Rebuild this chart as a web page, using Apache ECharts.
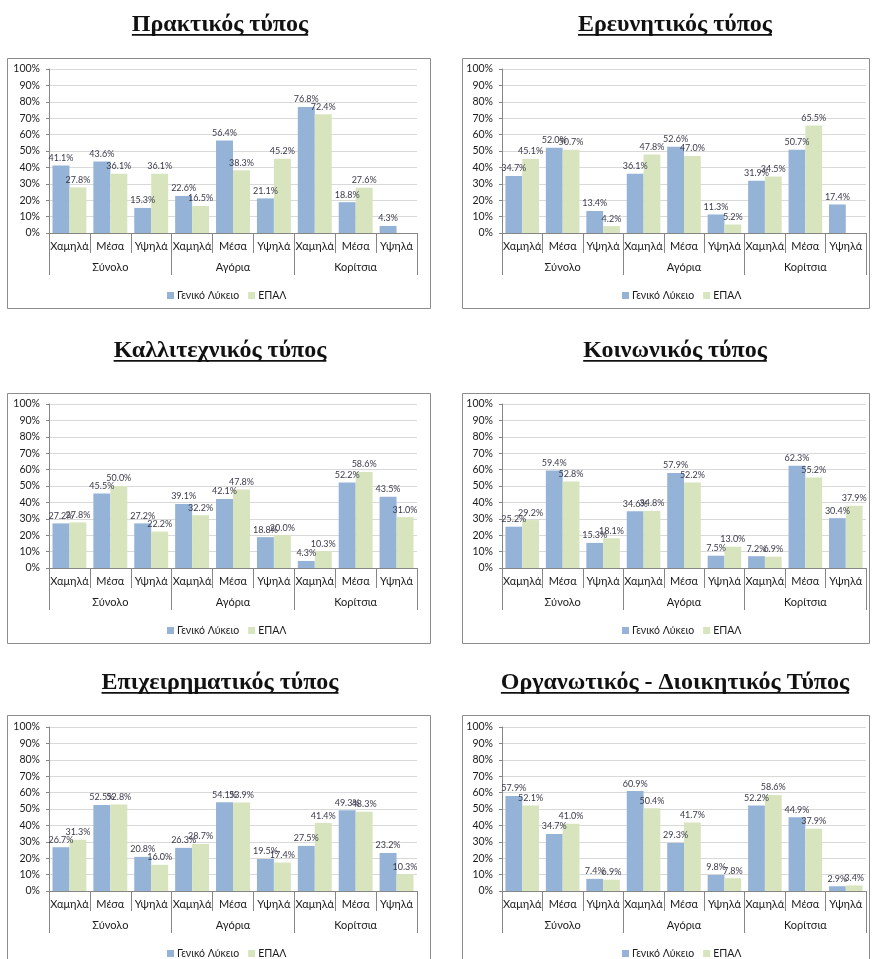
<!DOCTYPE html>
<html><head><meta charset="utf-8">
<script src="https://cdn.jsdelivr.net/npm/echarts@6/dist/echarts.min.js"></script>
<style>html,body{margin:0;padding:0;background:#fff}#c{width:874px;height:959px}</style>
</head><body><div id="c"></div>
<script>
// ---------- DATA ----------
const levels = ['Χαμηλά','Μέσα','Υψηλά','Χαμηλά','Μέσα','Υψηλά','Χαμηλά','Μέσα','Υψηλά'];
const groups = ['Σύνολο','Αγόρια','Κορίτσια'];
const seriesNames = ['Γενικό Λύκειο','ΕΠΑΛ'];
const yMin = 0, yMax = 100, yStep = 10;

const titles = ['Πρακτικός τύπος','Ερευνητικός τύπος','Καλλιτεχνικός τύπος','Κοινωνικός τύπος','Επιχειρηματικός τύπος','Οργανωτικός - Διοικητικός Τύπος'];

const praktikosGL   = [41.1, 43.6, 15.3, 22.6, 56.4, 21.1, 76.8, 18.8, 4.3];
const praktikosEPAL = [27.8, 36.1, 36.1, 16.5, 38.3, 45.2, 72.4, 27.6, null];

const erevnitikosGL   = [34.7, 52.0, 13.4, 36.1, 52.6, 11.3, 31.9, 50.7, 17.4];
const erevnitikosEPAL = [45.1, 50.7, 4.2, 47.8, 47.0, 5.2, 34.5, 65.5, null];

const kallitexnikosGL   = [27.2, 45.5, 27.2, 39.1, 42.1, 18.8, 4.3, 52.2, 43.5];
const kallitexnikosEPAL = [27.8, 50.0, 22.2, 32.2, 47.8, 20.0, 10.3, 58.6, 31.0];

const koinonikosGL   = [25.2, 59.4, 15.3, 34.6, 57.9, 7.5, 7.2, 62.3, 30.4];
const koinonikosEPAL = [29.2, 52.8, 18.1, 34.8, 52.2, 13.0, 6.9, 55.2, 37.9];

const epixeirimatikosGL   = [26.7, 52.5, 20.8, 26.3, 54.1, 19.5, 27.5, 49.3, 23.2];
const epixeirimatikosEPAL = [31.3, 52.8, 16.0, 28.7, 53.9, 17.4, 41.4, 48.3, 10.3];

const organotikosGL   = [57.9, 34.7, 7.4, 60.9, 29.3, 9.8, 52.2, 44.9, 2.9];
const organotikosEPAL = [52.1, 41.0, 6.9, 50.4, 41.7, 7.8, 58.6, 37.9, 3.4];

const panelData = [
  [praktikosGL, praktikosEPAL],
  [erevnitikosGL, erevnitikosEPAL],
  [kallitexnikosGL, kallitexnikosEPAL],
  [koinonikosGL, koinonikosEPAL],
  [epixeirimatikosGL, epixeirimatikosEPAL],
  [organotikosGL, organotikosEPAL]
];

// ---------- LAYOUT ----------
const cols = [
  {pl: 49, pr: 417, bl: 7, br: 430, cx: 220},
  {pl: 502, pr: 866, bl: 462, br: 869, cx: 675}
];
const rows = [
  {pt: 69, pb: 233, bt: 58, bb: 308, ty: 25},
  {pt: 404, pb: 568, bt: 393, bb: 643, ty: 351},
  {pt: 727, pb: 891, bt: 715, bb: 975, ty: 683}
];
const colors = ['#95B3D7', '#D7E4BD'];
const titleFont = 'bold 24px "Liberation Serif", "DejaVu Serif", serif';
const axisFont = 'Lato, "Liberation Sans", Arial, sans-serif';

const measure = (() => {
  const cv = document.createElement('canvas').getContext('2d');
  return (t, f) => { cv.font = f; return cv.measureText(t).width; };
})();

const grid = [], xAxis = [], yAxis = [], series = [], legend = [], graphic = [];

panelData.forEach((pd, i) => {
  const c = cols[i % 2], r = rows[Math.floor(i / 2)];
  grid.push({left: c.pl, width: c.pr - c.pl, top: r.pt, height: r.pb - r.pt, containLabel: false});
  xAxis.push({
    type: 'category', gridIndex: i, data: levels, position: 'bottom',
    axisLine: {show: true, lineStyle: {color: '#868686', width: 1}},
    axisTick: {show: true, length: 20, lineStyle: {color: '#868686'}},
    axisLabel: {color: '#1a1a1a', fontSize: 11, margin: 8, interval: 0, fontFamily: axisFont}
  });
  xAxis.push({
    type: 'category', gridIndex: i, data: groups, position: 'bottom', offset: 0,
    axisLine: {show: false},
    axisTick: {show: true, length: 42, lineStyle: {color: '#868686'}},
    axisLabel: {color: '#1a1a1a', fontSize: 11, margin: 29, interval: 0, fontFamily: axisFont}
  });
  yAxis.push({
    type: 'value', gridIndex: i, min: yMin, max: yMax, interval: yStep,
    axisLine: {show: true, lineStyle: {color: '#868686'}},
    axisTick: {show: true, length: 3, lineStyle: {color: '#868686'}},
    splitLine: {show: true, lineStyle: {color: '#D9D9D9', width: 1}},
    axisLabel: {formatter: '{value}%', color: '#1a1a1a', fontSize: 10.5, margin: 9, fontFamily: axisFont}
  });
  pd.forEach((vals, s) => {
    series.push({
      type: 'bar', name: seriesNames[s], xAxisIndex: i * 2, yAxisIndex: i,
      data: vals, barGap: '0%', barCategoryGap: '17%',
      itemStyle: {color: colors[s]},
      label: {show: true, position: 'top', distance: 3, fontSize: 9, color: '#3a3a4a',
        fontFamily: axisFont,
        formatter: p => p.value == null ? '' : p.value.toFixed(1) + '%'}
    });
  });
  legend.push({
    data: seriesNames.map(n => ({name: n, icon: 'rect'})),
    left: c.cx - 58, top: r.pb + 52, itemWidth: 7, itemHeight: 7, itemGap: 9,
    textStyle: {fontSize: 10.5, color: '#1a1a1a', fontFamily: axisFont, padding: [0, 0, 0, -2]},
    selectedMode: false
  });
  // panel border
  graphic.push({type: 'rect', shape: {x: c.bl + 0.5, y: r.bt + 0.5, width: c.br - c.bl, height: r.bb - r.bt},
    style: {fill: 'none', stroke: '#8c8c8c', lineWidth: 1}, silent: true, z: -1});
  // title
  const tw = measure(titles[i], titleFont);
  graphic.push({type: 'text', x: c.cx, y: r.ty, style: {text: titles[i], font: titleFont, fill: '#111',
    textAlign: 'center', textVerticalAlign: 'middle'}, silent: true});
  graphic.push({type: 'rect', shape: {x: c.cx - tw / 2, y: r.ty + 9, width: tw, height: 1.8},
    style: {fill: '#111'}, silent: true});
});

const chart = echarts.init(document.getElementById('c'), null, {renderer: 'canvas'});
chart.setOption({animation: false, backgroundColor: '#fff', grid, xAxis, yAxis, series, legend, graphic});
</script>
</body></html>
